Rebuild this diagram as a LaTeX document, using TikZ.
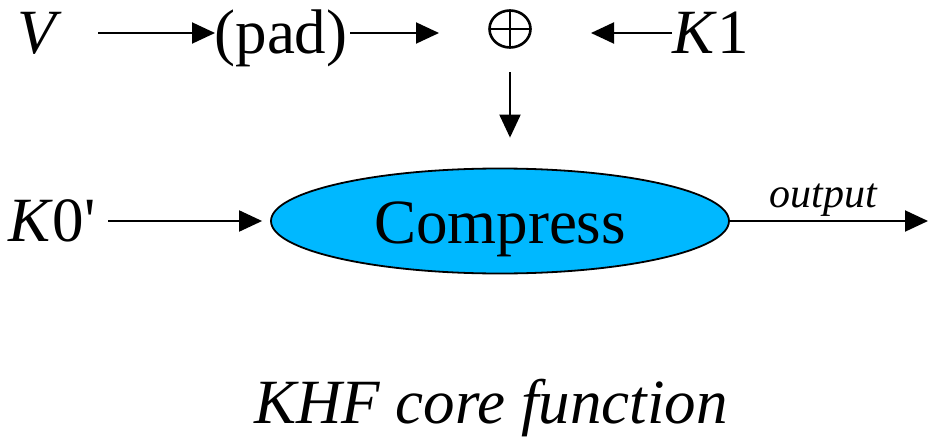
\documentclass[tikz,border=0pt]{standalone}
\usepackage{fontspec}
\setmainfont{Liberation Serif}
\usepackage{tikz}
\usepackage{xcolor}
\usetikzlibrary{shapes.geometric,arrows.meta}
\definecolor{compblue}{RGB}{0,184,255}

\begin{document}
\begin{tikzpicture}[x=1pt,y=-1pt,
	lbl/.style={inner sep=0pt,text height=40pt,text depth=0pt,font=\fontsize{63}{70}\selectfont},
	arr/.style={line width=2pt,-{Triangle[length=23pt,width=21pt]}},
	xorc/.style={ellipse,draw,line width=2.6pt,minimum width=41pt,minimum height=37pt,inner sep=0pt,
		path picture={\draw[line width=2.6pt] (path picture bounding box.north)--(path picture bounding box.south)
			(path picture bounding box.west)--(path picture bounding box.east);}},
	ell/.style={ellipse,draw,line width=1.8pt,fill=compblue,minimum width=458pt,minimum height=105pt,inner sep=0pt,text height=44pt,text depth=0pt,font=\fontsize{63}{70}\selectfont}]
					\useasboundingbox (0,0) rectangle (929,439);
					\node[lbl] (v) at (40,33) {\textit{V}};
					\node[lbl] (pad) at (281,33) {(pad)};
					\node[xorc] (xor) at (510,29) {};
					\node[lbl] (k1) at (711,33) {\textit{K}1};
					\node[ell] (comp) at (500,221) {Compress};
					\node[lbl] (k0) at (52,221) {\textit{K}0\textquotesingle};
					\coordinate (out) at (928,221);
					\node[lbl,font=\fontsize{63}{70}\selectfont\itshape] (cap) at (491,403) {KHF core function};
					\draw[arr,shorten <=58pt,shorten >=66pt] (v.center)--(pad.center);
					\draw[arr,shorten <=69pt,shorten >=71pt] (pad.center)--(pad.center -| xor.center);
					\draw[arr,shorten <=39pt,shorten >=81pt] (k1.center)--(k1.center -| xor.center);
					\draw[arr,shorten <=43pt,shorten >=30pt] (xor.center)--(xor.center |- comp.north);
					\draw[arr,shorten <=56pt,shorten >=8pt] (k0.center)--(comp.west);
					\draw[arr] (comp.east)--node[pos=0.47,above=4pt,inner sep=0pt,font=\fontsize{42}{46}\selectfont\itshape]{output}(out);
				\end{tikzpicture}
\end{document}
